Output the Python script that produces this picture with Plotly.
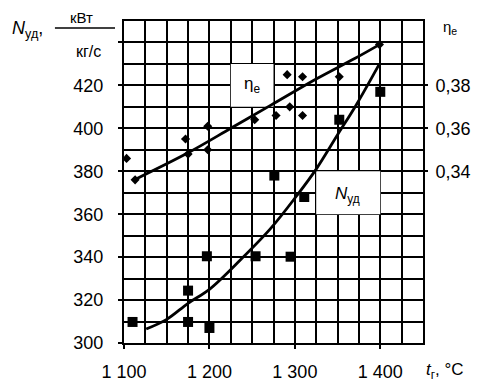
import plotly.graph_objects as go

# ---- data ----
# specific power N_ud, kW/(kg/s) -- measured points (squares)
n_pts_t = [1110, 1175, 1175, 1200, 1197, 1254, 1295, 1276, 1311, 1352, 1400]
n_pts_v = [309.8, 324.4, 309.8, 307, 340.4, 340.4, 340.2, 378, 368, 404, 417]
# N_ud fitted curve
n_curve_t = [1126, 1150, 1175, 1200, 1237, 1272, 1302, 1325, 1350, 1372, 1399]
n_curve_v = [306.5, 311, 318.5, 325, 339, 353.5, 368.5, 381, 397, 411, 430]

# efficiency eta_e -- measured points (dots)
eta_pts_t = [1103, 1113, 1172, 1175, 1198, 1198, 1253, 1278, 1291, 1294, 1309, 1309, 1352, 1399]
eta_pts_v = [0.346, 0.336, 0.355, 0.348, 0.361, 0.350, 0.364, 0.366, 0.385, 0.370, 0.384, 0.366, 0.384, 0.399]
# eta_e fitted curve
eta_curve_t = [1113, 1175, 1225, 1272, 1326, 1370, 1399]
eta_curve_v = [0.3362, 0.3486, 0.3600, 0.3708, 0.3832, 0.3925, 0.3990]

x_tick_vals = [1100, 1200, 1300, 1400]
x_tick_text = ["1 100", "1 200", "1 300", "1 400"]
y_tick_vals = [300, 320, 340, 360, 380, 400, 420, 440]
y_tick_text = ["300", "320", "340", "360", "380", "400", "420", ""]
y2_tick_vals = [0.34, 0.36, 0.38]
y2_tick_text = ["0,34", "0,36", "0,38"]

FONT = "Liberation Sans, Arial, sans-serif"

fig = go.Figure()

fig.add_trace(go.Scatter(x=eta_curve_t, y=eta_curve_v, mode="lines", yaxis="y2",
                         line=dict(color="black", width=2.8, shape="spline"), showlegend=False))
fig.add_trace(go.Scatter(x=eta_pts_t, y=eta_pts_v, mode="markers", yaxis="y2",
                         marker=dict(symbol="diamond", size=7, color="black"), showlegend=False))
fig.add_trace(go.Scatter(x=n_curve_t, y=n_curve_v, mode="lines",
                         line=dict(color="black", width=2.8, shape="spline"), showlegend=False))
fig.add_trace(go.Scatter(x=n_pts_t, y=n_pts_v, mode="markers",
                         marker=dict(symbol="square", size=10, color="black"), showlegend=False))

# white label boxes covering the grid
fig.add_shape(type="rect", xref="x", yref="y", x0=1225, x1=1275, y0=410, y1=430,
              fillcolor="white", line=dict(width=0), layer="between")
fig.add_shape(type="rect", xref="x", yref="y", x0=1325, x1=1400, y0=360, y1=380,
              fillcolor="white", line=dict(width=0), layer="between")

fig.add_annotation(x=1250, y=420, xref="x", yref="y", text="η<sub>e</sub>", showarrow=False,
                   font=dict(size=17, color="black", family=FONT))
fig.add_annotation(x=1362, y=369, xref="x", yref="y", text="<i>N</i><sub>уд</sub>", showarrow=False,
                   font=dict(size=17, color="black", family=FONT))

# axis titles
def paper_text(x, y, text, size, pad=1):
    fig.add_annotation(x=x, y=y, xref="paper", yref="paper", text=text, showarrow=False,
                       xanchor="center", yanchor="middle", borderpad=pad,
                       font=dict(size=size, color="black", family=FONT))

paper_text(-0.323, 0.975, "<i>N</i><sub>уд</sub>,", 18)
paper_text(-0.142, 1.011, "кВт", 15, pad=0)
paper_text(-0.120, 0.906, "кг/с", 16)
fig.add_shape(type="line", xref="paper", yref="paper", x0=-0.231, x1=-0.030, y0=0.978, y1=0.978,
              line=dict(color="black", width=1.5))
paper_text(1.090, 0.981, "η<sub>e</sub>", 15)
paper_text(1.075, -0.087, "<i>t</i><sub>г</sub>, °C", 17)

# the page body adds an 8px margin; the figure is offset to compensate
fig.update_layout(
    width=473, height=374,
    margin=dict(l=116, r=58, t=13, b=39),
    paper_bgcolor="white", plot_bgcolor="white",
    font=dict(family=FONT, size=18, color="black"),
    xaxis=dict(range=[1100, 1450], tickvals=x_tick_vals, ticktext=x_tick_text,
               showgrid=True, gridcolor="black", gridwidth=2,
               minor=dict(tickmode="linear", tick0=1100, dtick=25, showgrid=True,
                          gridcolor="black", gridwidth=2, ticks=""),
               showline=True, linecolor="black", linewidth=2, mirror=True,
               ticks="outside", ticklen=4, tickwidth=2, tickcolor="black",
               ticklabelstandoff=7, zeroline=False, fixedrange=True, automargin=False),
    yaxis=dict(range=[300, 450], tickvals=y_tick_vals, ticktext=y_tick_text,
               showgrid=True, gridcolor="black", gridwidth=2,
               minor=dict(tickmode="linear", tick0=300, dtick=10, showgrid=True,
                          gridcolor="black", gridwidth=2, ticks=""),
               showline=True, linecolor="black", linewidth=2, mirror=True,
               ticks="outside", ticklen=4, tickwidth=2, tickcolor="black",
               ticklabelstandoff=11, zeroline=False, fixedrange=True, automargin=False),
    yaxis2=dict(range=[0.26, 0.41], overlaying="y", side="right",
                tickvals=y2_tick_vals, ticktext=y2_tick_text, showgrid=False,
                ticks="outside", ticklen=4, tickwidth=2, tickcolor="black",
                ticklabelstandoff=4, zeroline=False, showline=False, fixedrange=True,
                automargin=False),
)

fig.write_html("out.html")
